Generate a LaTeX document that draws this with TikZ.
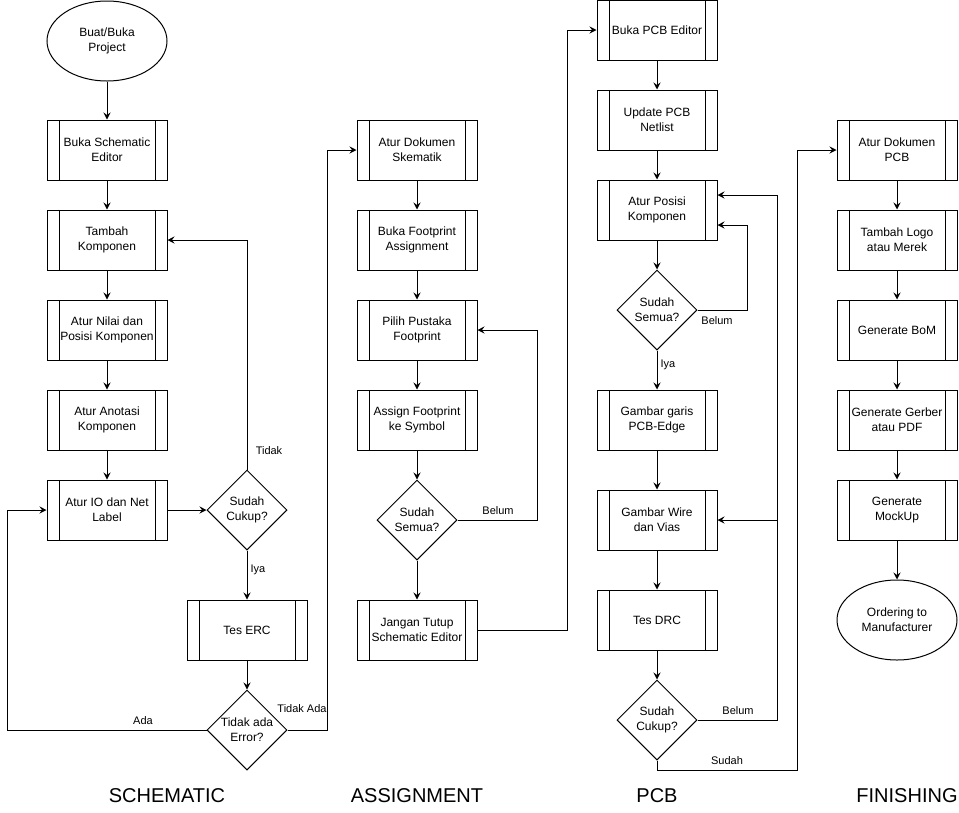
\documentclass[tikz,border=0pt]{standalone}
\usepackage{fontspec}
\setmainfont{Liberation Sans}
\usetikzlibrary{shapes.geometric,arrows.meta}
\tikzset{
	every picture/.style={x=1pt, y=-1pt, line width=1pt},
	procbox/.style={draw, minimum width=120pt, minimum height=60pt, inner sep=0pt, align=center,
		font=\fontsize{12}{15}\selectfont,
		path picture={
			\draw ([xshift=12pt]path picture bounding box.north west) -- ([xshift=12pt]path picture bounding box.south west);
			\draw ([xshift=-12pt]path picture bounding box.north east) -- ([xshift=-12pt]path picture bounding box.south east);
		}},
	askbox/.style={draw, diamond, shape aspect=1, minimum size=80pt, inner sep=0pt, align=center,
		font=\fontsize{12}{15}\selectfont},
	endbox/.style={draw, ellipse, minimum width=120pt, minimum height=80pt, inner sep=0pt, align=center,
		font=\fontsize{12}{15}\selectfont},
	edgetxt/.style={inner sep=0pt, font=\fontsize{11}{13}\selectfont},
	coltitle/.style={inner sep=0pt, font=\fontsize{20}{23}\selectfont},
	arr/.style={-{Stealth[length=7pt, width=7pt, inset=2.5pt]}}
}
\begin{document}
\begin{tikzpicture}
			%%%%% START %%%%%
			\useasboundingbox (0, 0) rectangle (959, 812);
			
			% schematic
			\node[endbox] (start) at (107, 41) {Buat/Buka\\Project};
			\node[procbox] (bukaSch) at (107, 150) {Buka Schematic\\Editor};
			\node[procbox] (tambah) at (107, 240) {Tambah\\Komponen};
			\node[procbox] (nilai) at (107, 330) {Atur Nilai dan\\Posisi Komponen};
			\node[procbox] (anotasi) at (107, 420) {Atur Anotasi\\Komponen};
			\node[procbox] (netLabel) at (107, 510) {Atur IO dan Net\\Label};
			\node[askbox] (cukupSch) at (247, 510) {Sudah\\Cukup?};
			\node[procbox] (erc) at (247, 630) {Tes ERC};
			\node[askbox] (error) at (247, 730) {Tidak ada\\Error?};
			
			\draw[arr] (start) -- (bukaSch);
			\draw[arr] (bukaSch) -- (tambah);
			\draw[arr] (tambah) -- (nilai);
			\draw[arr] (nilai) -- (anotasi);
			\draw[arr] (anotasi) -- (netLabel);
			\draw[arr] (netLabel) -- (cukupSch);
			\draw[arr] (cukupSch.north) |- (tambah.east);
			\draw[arr] (cukupSch) -- (erc);
			\draw[arr] (erc) -- (error);
			\coordinate (adaL) at (7, 730);
			\draw[arr] (error.west) -- (adaL) |- (netLabel.west);
			\coordinate (tdkR) at (327, 730);
			
			\node[edgetxt] (lTidak) at (269, 451) {Tidak};
			\node[edgetxt] (lIya) at (258, 570) {Iya};
			\node[edgetxt] (lAda) at (143, 721) {Ada};
			\node[edgetxt] (lTdkAda) at (302, 709) {Tidak Ada};
			
			% assignment
			\node[procbox] (dokSch) at (417, 150) {Atur Dokumen\\Skematik};
			\node[procbox] (bukaFp) at (417, 240) {Buka Footprint\\Assignment};
			\node[procbox] (pustaka) at (417, 330) {Pilih Pustaka\\Footprint};
			\node[procbox] (assign) at (417, 420) {Assign Footprint\\ke Symbol};
			\node[askbox] (semuaFp) at (417, 520) {Sudah\\Semua?};
			\node[procbox] (jangan) at (417, 630) {Jangan Tutup\\Schematic Editor};
			
			\draw[arr] (error.east) -- (tdkR) |- (dokSch.west);
			\draw[arr] (dokSch) -- (bukaFp);
			\draw[arr] (bukaFp) -- (pustaka);
			\draw[arr] (pustaka) -- (assign);
			\draw[arr] (assign) -- (semuaFp);
			\draw[arr] (semuaFp) -- (jangan);
			\coordinate (blmFp) at (537, 520);
			\draw[arr] (semuaFp.east) -- (blmFp) |- (pustaka.east);
			\coordinate (jgnR) at (567, 630);
			
			\node[edgetxt] (lBelumFp) at (498, 511) {Belum};
			
			% pcb
			\node[procbox] (bukaPcb) at (657, 30) {Buka PCB Editor};
			\node[procbox] (netlist) at (657, 120) {Update PCB\\Netlist};
			\node[procbox] (posisi) at (657, 210) {Atur Posisi\\Komponen};
			\node[askbox] (semuaPcb) at (657, 310) {Sudah\\Semua?};
			\node[procbox] (edge) at (657, 420) {Gambar garis\\PCB-Edge};
			\node[procbox] (wire) at (657, 520) {Gambar Wire\\dan Vias};
			\node[procbox] (drc) at (657, 620) {Tes DRC};
			\node[askbox] (cukupPcb) at (657, 720) {Sudah\\Cukup?};
			
			\draw[arr] (jangan.east) -- (jgnR) |- (bukaPcb.west);
			\draw[arr] (bukaPcb) -- (netlist);
			\draw[arr] (netlist) -- (posisi);
			\draw[arr] (posisi) -- (semuaPcb);
			\draw[arr] (semuaPcb) -- (edge);
			\draw[arr] (edge) -- (wire);
			\draw[arr] (wire) -- (drc);
			\draw[arr] (drc) -- (cukupPcb);
			\coordinate (blmPos) at (747, 310);
			\draw[arr] (semuaPcb.east) -- (blmPos) |- ([yshift=-15pt]posisi.east);
			\coordinate (blmDrc) at (777, 720);
			\draw[arr] (cukupPcb.east) -- (blmDrc) |- ([yshift=15pt]posisi.east);
			\draw[arr] (blmDrc |- wire.east) -- (wire.east);
			\coordinate (sdhB) at (657, 770);
			\coordinate (sdhR) at (797, 770);
			
			\node[edgetxt] (lBelumPos) at (717, 321) {Belum};
			\node[edgetxt] (lIyaPcb) at (668, 365) {Iya};
			\node[edgetxt] (lBelumDrc) at (738, 711) {Belum};
			\node[edgetxt] (lSudah) at (727, 761) {Sudah};
			
			% finishing
			\node[procbox] (dokPcb) at (897, 150) {Atur Dokumen\\PCB};
			\node[procbox] (logo) at (897, 240) {Tambah Logo\\atau Merek};
			\node[procbox] (bom) at (897, 330) {Generate BoM};
			\node[procbox] (gerber) at (897, 420) {Generate Gerber\\atau PDF};
			\node[procbox] (mockup) at (897, 510) {Generate\\MockUp};
			\node[endbox] (order) at (897, 620) {Ordering to\\Manufacturer};
			
			\draw[arr] (cukupPcb.south) -- (sdhB) -- (sdhR) |- (dokPcb.west);
			\draw[arr] (dokPcb) -- (logo);
			\draw[arr] (logo) -- (bom);
			\draw[arr] (bom) -- (gerber);
			\draw[arr] (gerber) -- (mockup);
			\draw[arr] (mockup) -- (order);
			
			% column titles
			\node[coltitle] (tSch) at (167, 796) {SCHEMATIC};
			\node[coltitle] (tAsg) at (417, 796) {ASSIGNMENT};
			\node[coltitle] (tPcb) at (657, 796) {PCB};
			\node[coltitle] (tFin) at (907, 796) {FINISHING};
			
			%%%%% END %%%%%
\end{tikzpicture}
\end{document}
